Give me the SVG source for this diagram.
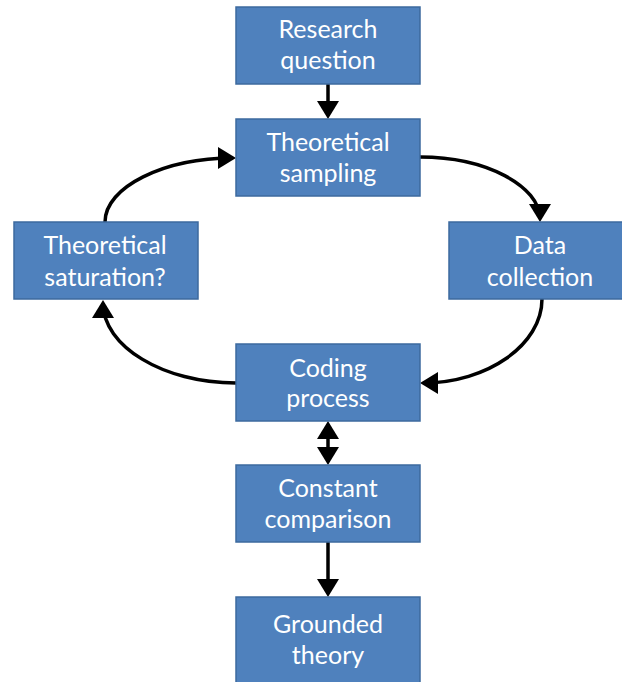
<svg xmlns="http://www.w3.org/2000/svg" width="622" height="682" viewBox="0 0 622 682">
<style>
.box{fill:#4F81BD;stroke:#3C6A9E;stroke-width:1.5}
.t{fill:#FFFFFF;font-family:Lato,"Open Sans","Liberation Sans",sans-serif;font-size:25px;text-anchor:middle}
.c{fill:none;stroke:#000000;stroke-width:3.5}
</style>
<defs>
<marker id="ah" viewBox="0 0 18 22" markerWidth="18" markerHeight="22" markerUnits="userSpaceOnUse" refX="15" refY="11" orient="auto">
<path d="M0,0 L18,11 L0,22 z" fill="#000000"/>
</marker>
<marker id="ahs" viewBox="0 0 18 22" markerWidth="18" markerHeight="22" markerUnits="userSpaceOnUse" refX="15" refY="11" orient="auto-start-reverse">
<path d="M0,0 L18,11 L0,22 z" fill="#000000"/>
</marker>
</defs>
<rect width="622" height="682" fill="#FFFFFF"/>
<g id="connectors">
<path class="c" d="M328,84 L328,116" marker-end="url(#ah)"/>
<path class="c" d="M420,157 C486,157 540,186 540,219" marker-end="url(#ah)"/>
<path class="c" d="M542,299 C542,345 487,383 423,383" marker-end="url(#ah)"/>
<path class="c" d="M236,383 C163,383 103,346 103,303" marker-end="url(#ah)"/>
<path class="c" d="M105,222 C105,187 164,158 233,158" marker-end="url(#ah)"/>
<path class="c" d="M328,424 L328,462" marker-start="url(#ahs)" marker-end="url(#ah)"/>
<path class="c" d="M328,542 L328,594" marker-end="url(#ah)"/>
</g>
<g id="research">
<rect class="box" x="236" y="7" width="184" height="77"/>
<text class="t" x="328" y="38">Research</text>
<text class="t" x="328" y="69">question</text>
</g>
<g id="sampling">
<rect class="box" x="236" y="119" width="184" height="77"/>
<text class="t" x="328" y="151">Theoretical</text>
<text class="t" x="328" y="182">sampling</text>
</g>
<g id="saturation">
<rect class="box" x="14" y="222" width="184" height="77"/>
<text class="t" x="105" y="254">Theoretical</text>
<text class="t" x="105" y="286">saturation?</text>
</g>
<g id="data">
<rect class="box" x="449" y="222" width="184" height="77"/>
<text class="t" x="540" y="254">Data</text>
<text class="t" x="540" y="286">collection</text>
</g>
<g id="coding">
<rect class="box" x="236" y="344" width="184" height="77"/>
<text class="t" x="328" y="377">Coding</text>
<text class="t" x="328" y="407">process</text>
</g>
<g id="constant">
<rect class="box" x="236" y="465" width="184" height="77"/>
<text class="t" x="328" y="497">Constant</text>
<text class="t" x="328" y="528">comparison</text>
</g>
<g id="grounded">
<rect class="box" x="236" y="597" width="184" height="92"/>
<text class="t" x="328" y="633">Grounded</text>
<text class="t" x="328" y="664">theory</text>
</g>
</svg>
